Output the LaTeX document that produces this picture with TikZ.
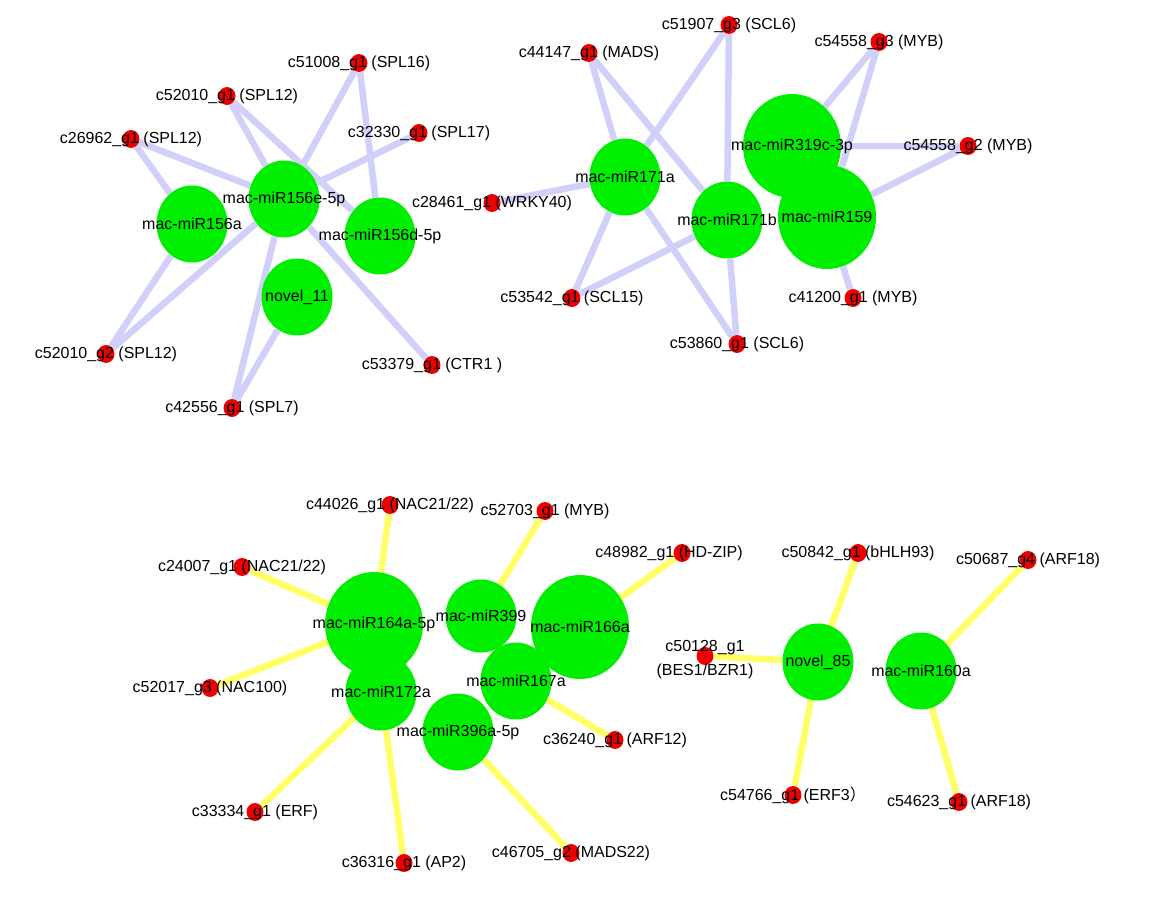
\documentclass[tikz,border=0pt]{standalone}
\usepackage{fontspec}
\setmainfont{Liberation Sans}
\newfontfamily\cjk{Noto Sans CJK SC}
\usetikzlibrary{shapes.geometric,backgrounds}
\definecolor{vert}{RGB}{0,238,0}
\definecolor{rouge}{RGB}{238,0,0}
\definecolor{lavande}{RGB}{208,208,250}
\definecolor{jaune}{RGB}{255,255,102}
\begin{document}
\begin{tikzpicture}[x=0.02cm, y=-0.02cm, font=\fontsize{9.1}{11}\selectfont]
\tikzstyle{mir} = [ellipse, fill=vert, inner sep=0pt, minimum width=1.42cm, minimum height=1.54cm]
\tikzstyle{grand} = [mir, minimum width=1.96cm, minimum height=2.08cm]
\tikzstyle{cible} = [ellipse, fill=rouge, inner sep=0pt, minimum width=0.34cm, minimum height=0.36cm]
\tikzstyle{etiquette} = [inner sep=0pt, text=black, align=center]
\tikzstyle{lien} = [draw=lavande, line width=0.13cm]
\tikzstyle{lienj} = [draw=jaune, line width=0.13cm]
\useasboundingbox (0,0) rectangle (1169,899);
% miR156 family
\node[mir] (m156a) at (192,224) {\makebox[0pt]{mac-miR156a}};
\node[mir] (m156e) at (284,199) {\makebox[0pt]{mac-miR156e-5p}};
\node[mir] (m156d) at (380,236) {\makebox[0pt]{mac-miR156d-5p}};
\node[mir] (n11) at (297,297) {\makebox[0pt]{novel\_11}};
\node[cible, label={[etiquette]center:c51008\_g1 (SPL16)}] (c51008) at (359,63) {};
\node[cible, label={[etiquette]center:c52010\_g1 (SPL12)}] (c52010a) at (227,96) {};
\node[cible, label={[etiquette]center:c26962\_g1 (SPL12)}] (c26962) at (131,139) {};
\node[cible, label={[etiquette]center:c32330\_g1 (SPL17)}] (c32330) at (419,133) {};
\node[cible, label={[etiquette]center:c28461\_g1 (WRKY40)}] (c28461) at (492,203) {};
\node[cible, label={[etiquette]center:c52010\_g2 (SPL12)}] (c52010b) at (106,354) {};
\node[cible, label={[etiquette]center:c42556\_g1 (SPL7)}] (c42556) at (232,408) {};
\node[cible, label={[etiquette]center:c53379\_g1 (CTR1 )}] (c53379) at (432,365) {};
% miR171, miR319, miR159
\node[mir] (m171a) at (625,177) {\makebox[0pt]{mac-miR171a}};
\node[mir] (m171b) at (727,220) {\makebox[0pt]{mac-miR171b}};
\node[grand] (m319) at (792,146) {\makebox[0pt]{mac-miR319c-3p}};
\node[grand] (m159) at (827,217) {\makebox[0pt]{mac-miR159}};
\node[cible, label={[etiquette]center:c51907\_g3 (SCL6)}] (c51907) at (729,25) {};
\node[cible, label={[etiquette]center:c44147\_g1 (MADS)}] (c44147) at (589,53) {};
\node[cible, label={[etiquette]center:c54558\_g3 (MYB)}] (c54558c) at (879,42) {};
\node[cible, label={[etiquette]center:c54558\_g2 (MYB)}] (c54558b) at (968,146) {};
\node[cible, label={[etiquette]center:c41200\_g1 (MYB)}] (c41200) at (853,298) {};
\node[cible, label={[etiquette]center:c53542\_g1 (SCL15)}] (c53542) at (572,298) {};
\node[cible, label={[etiquette]center:c53860\_g1 (SCL6)}] (c53860) at (737,344) {};
% lower left group
\node[grand] (m164) at (374,624) {\makebox[0pt]{mac-miR164a-5p}};
\node[mir] (m172) at (381,692) {\makebox[0pt]{mac-miR172a}};
\node[mir, minimum height=1.46cm] (m399) at (481,616) {\makebox[0pt]{mac-miR399}};
\node[grand] (m166) at (580,627) {\makebox[0pt]{mac-miR166a}};
\node[mir] (m167) at (516,681) {\makebox[0pt]{mac-miR167a}};
\node[mir] (m396) at (458,732) {\makebox[0pt]{mac-miR396a-5p}};
\node[cible, label={[etiquette]center:c44026\_g1 (NAC21/22)}] (c44026) at (390,505) {};
\node[cible, label={[etiquette]center:c52703\_g1 (MYB)}] (c52703) at (545,511) {};
\node[cible, label={[etiquette]center:c24007\_g1 (NAC21/22)}] (c24007) at (242,567) {};
\node[cible, label={[etiquette, xshift=-0.26cm]center:c48982\_g1 (HD-ZIP)}] (c48982) at (682,553) {};
\node[cible, label={[etiquette]center:c52017\_g3 (NAC100)}] (c52017) at (210,688) {};
\node[cible, label={[etiquette]center:c36240\_g1 (ARF12)}] (c36240) at (615,740) {};
\node[cible, label={[etiquette]center:c33334\_g1 (ERF)}] (c33334) at (255,812) {};
\node[cible, label={[etiquette]center:c36316\_g1 (AP2)}] (c36316) at (404,863) {};
\node[cible, label={[etiquette]center:c46705\_g2 (MADS22)}] (c46705) at (571,853) {};
% lower right group
\node[mir] (n85) at (818,662) {\makebox[0pt]{novel\_85}};
\node[mir] (m160) at (921,671) {\makebox[0pt]{mac-miR160a}};
\node[cible, label={[etiquette]center:c50842\_g1 (bHLH93)}] (c50842) at (858,553) {};
\node[cible, label={[etiquette]center:c50687\_g4 (ARF18)}] (c50687) at (1028,560) {};
\node[cible, label={[etiquette, yshift=-0.03cm, text depth=0pt, font=\fontsize{9.1}{13.6}\selectfont]center:c50128\_g1\\(BES1/BZR1)}] (c50128) at (705,656) {};
\node[cible, label={[etiquette]center:c54766\_g1 (ERF3{\cjk ）}}] (c54766) at (793,795) {};
\node[cible, label={[etiquette]center:c54623\_g1 (ARF18)}] (c54623) at (959,802) {};
\begin{pgfonlayer}{background}
\fill[white] (0,0) rectangle (1169,899);
\draw[lien] (c26962) -- (m156a);
\draw[lien] (c26962) -- (m156e);
\draw[lien] (c52010a) -- (m156e);
\draw[lien] (c52010a) -- (m156d);
\draw[lien] (c51008) -- (m156e);
\draw[lien] (c51008) -- (m156d);
\draw[lien] (c32330) -- (m156e);
\draw[lien] (c52010b) -- (m156a);
\draw[lien] (c52010b) -- (m156e);
\draw[lien] (c42556) -- (m156e);
\draw[lien] (c42556) -- (n11);
\draw[lien] (c53379) -- (m156e);
\draw[lien] (c28461) -- (m171a);
\draw[lien] (c44147) -- (m171a);
\draw[lien] (c44147) -- (m171b);
\draw[lien] (c51907) -- (m171a);
\draw[lien] (c51907) -- (m171b);
\draw[lien] (c53542) -- (m171a);
\draw[lien] (c53542) -- (m171b);
\draw[lien] (c53860) -- (m171a);
\draw[lien] (c53860) -- (m171b);
\draw[lien] (c54558c) -- (m319);
\draw[lien] (c54558c) -- (m159);
\draw[lien] (c54558b) -- (m319);
\draw[lien] (c54558b) -- (m159);
\draw[lien] (c41200) -- (m159);
\draw[lienj] (c44026) -- (m164);
\draw[lienj] (c24007) -- (m164);
\draw[lienj] (c52017) -- (m164);
\draw[lienj] (c52703) -- (m399);
\draw[lienj] (c48982) -- (m166);
\draw[lienj] (c36240) -- (m167);
\draw[lienj] (c33334) -- (m172);
\draw[lienj] (c36316) -- (m172);
\draw[lienj] (c46705) -- (m396);
\draw[lienj] (c50842) -- (n85);
\draw[lienj] (c50128) -- (n85);
\draw[lienj] (c54766) -- (n85);
\draw[lienj] (c50687) -- (m160);
\draw[lienj] (c54623) -- (m160);
\end{pgfonlayer}
\end{tikzpicture}
\end{document}
